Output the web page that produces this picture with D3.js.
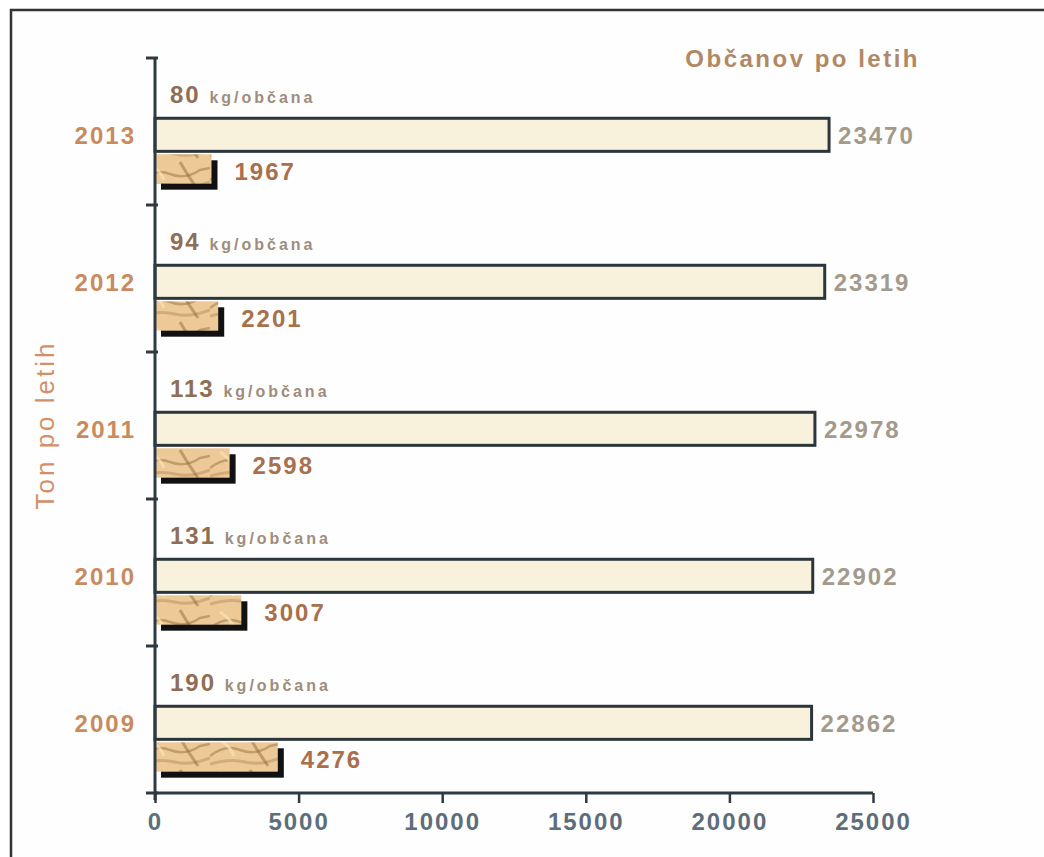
<!DOCTYPE html>
<html>
<head>
<meta charset="utf-8">
<script src="https://cdn.jsdelivr.net/npm/d3@7"></script>
<style>
html,body{margin:0;padding:0;background:#fff;}
svg{display:block;font-family:"Liberation Sans",Arial,sans-serif;}
</style>
</head>
<body>
<svg id="chart" width="1044" height="857"></svg>
<script>
const years = ["2013","2012","2011","2010","2009"];
const population = [23470, 23319, 22978, 22902, 22862];
const tons = [1967, 2201, 2598, 3007, 4276];
const kgPerCitizen = [80, 94, 113, 131, 190];
const xTicks = [0, 5000, 10000, 15000, 20000, 25000];
const unitLabel = "kg/občana";
const titleRight = "Občanov po letih";
const titleLeft = "Ton po letih";

const svg = d3.select("#chart");
const defs = svg.append("defs");

// wood-like texture for ton bars
const pat = defs.append("pattern").attr("id","wood").attr("patternUnits","userSpaceOnUse")
  .attr("width",70).attr("height",32);
pat.append("rect").attr("width",70).attr("height",32).attr("fill","#ecc996");
pat.append("path").attr("d","M0 20 Q15 8 30 14 T60 10 L70 8").attr("stroke","#b08a5a").attr("stroke-width",2.5).attr("fill","none").attr("opacity",0.7);
pat.append("path").attr("d","M0 28 Q20 22 35 26 T70 22").attr("stroke","#c79f6c").attr("stroke-width",3).attr("fill","none").attr("opacity",0.7);
pat.append("path").attr("d","M40 2 Q48 16 58 30").attr("stroke","#8f6a40").attr("stroke-width",3).attr("fill","none").attr("opacity",0.5);
pat.append("path").attr("d","M10 4 Q20 10 24 20").attr("stroke","#f6dfb6").attr("stroke-width",3).attr("fill","none").attr("opacity",0.8);

// frame
svg.append("rect").attr("x",11).attr("y",10).attr("width",1060).attr("height",900)
  .attr("fill","#fefefe").attr("stroke","#333").attr("stroke-width",2.5);

const x = d3.scaleLinear().domain([0,25000]).range([155,873]);
const y = d3.scaleBand().domain(years).range([58,793]).padding(0);
const bw = y.bandwidth();

const data = years.map((yr,i)=>({yr, pop:population[i], ton:tons[i], kg:kgPerCitizen[i]}));

// population bars
svg.selectAll(".pop").data(data).join("rect")
  .attr("x", x(0)).attr("y", d=>y(d.yr)+bw*0.41)
  .attr("width", d=>x(d.pop)-x(0)).attr("height", bw*0.225)
  .attr("fill","#f8f1db").attr("stroke","#2b363c").attr("stroke-width",3);

// ton bars shadow
svg.selectAll(".tonsh").data(data).join("rect")
  .attr("x", x(0)+6).attr("y", d=>y(d.yr)+bw*0.655+6)
  .attr("width", d=>x(d.ton)-x(0)).attr("height", bw*0.2)
  .attr("fill","#111");
svg.selectAll(".ton").data(data).join("rect")
  .attr("x", x(0)).attr("y", d=>y(d.yr)+bw*0.655)
  .attr("width", d=>x(d.ton)-x(0)).attr("height", bw*0.2)
  .attr("fill","url(#wood)");

// population labels
svg.selectAll(".popl").data(data).join("text")
  .attr("x", d=>x(d.pop)+9).attr("y", d=>y(d.yr)+bw*0.525)
  .attr("dy","0.35em").attr("font-size",24).attr("font-weight","bold").attr("letter-spacing",2)
  .attr("fill","#a39a8c").text(d=>d.pop);

// ton labels
svg.selectAll(".tonl").data(data).join("text")
  .attr("x", d=>x(d.ton)+23).attr("y", d=>y(d.yr)+bw*0.77)
  .attr("dy","0.35em").attr("font-size",24).attr("font-weight","bold").attr("letter-spacing",2)
  .attr("fill","#a8704c").text(d=>d.ton);

// kg per citizen labels
const kl = svg.selectAll(".kgl").data(data).join("text")
  .attr("x", x(0)+15).attr("y", d=>y(d.yr)+bw*0.27)
  .attr("dy","0.35em").attr("font-weight","bold");
kl.append("tspan").attr("font-size",24).attr("letter-spacing",2).attr("fill","#8e6e55").text(d=>d.kg+" ");
kl.append("tspan").attr("font-size",16).attr("letter-spacing",3).attr("fill","#a08c7c").text(unitLabel);

// x axis
const xAxis = svg.append("g").attr("transform","translate(0,793)")
  .call(d3.axisBottom(x).tickValues(xTicks).tickFormat(d3.format("d")).tickSize(10).tickPadding(10));
xAxis.select(".domain").attr("stroke","#2e3a42").attr("stroke-width",3).attr("d","M155,0H873");
xAxis.selectAll(".tick line").attr("stroke","#2e3a42").attr("stroke-width",2.5);
xAxis.selectAll(".tick text").attr("font-size",24).attr("font-weight","bold").attr("letter-spacing",2).attr("fill","#5d6d7a")
  .attr("font-family","'Liberation Sans',Arial,sans-serif");

// y axis line and ticks at band boundaries
svg.append("line").attr("x1",155).attr("x2",155).attr("y1",58).attr("y2",800)
  .attr("stroke","#2e3a42").attr("stroke-width",3);
const bounds = years.map(yr=>y(yr)).concat([y.range()[1]]);
svg.selectAll(".ytick").data(bounds).join("line")
  .attr("x1",146).attr("x2",158).attr("y1",d=>d).attr("y2",d=>d)
  .attr("stroke","#2e3a42").attr("stroke-width",3);

// year labels
svg.selectAll(".yl").data(data).join("text")
  .attr("x",136).attr("y",d=>y(d.yr)+bw*0.525).attr("dy","0.35em")
  .attr("text-anchor","end").attr("font-size",24).attr("font-weight","bold").attr("letter-spacing",2)
  .attr("fill","#c98a60").text(d=>d.yr);

// titles
svg.append("text").attr("x",920).attr("y",67).attr("text-anchor","end")
  .attr("font-size",24).attr("font-weight","bold").attr("letter-spacing",2.5).attr("fill","#b08866").text(titleRight);
svg.append("text").attr("transform","translate(54,425) rotate(-90)").attr("text-anchor","middle")
  .attr("font-size",26).attr("letter-spacing",3).attr("fill","#d39068").text(titleLeft);
</script>
</body>
</html>
